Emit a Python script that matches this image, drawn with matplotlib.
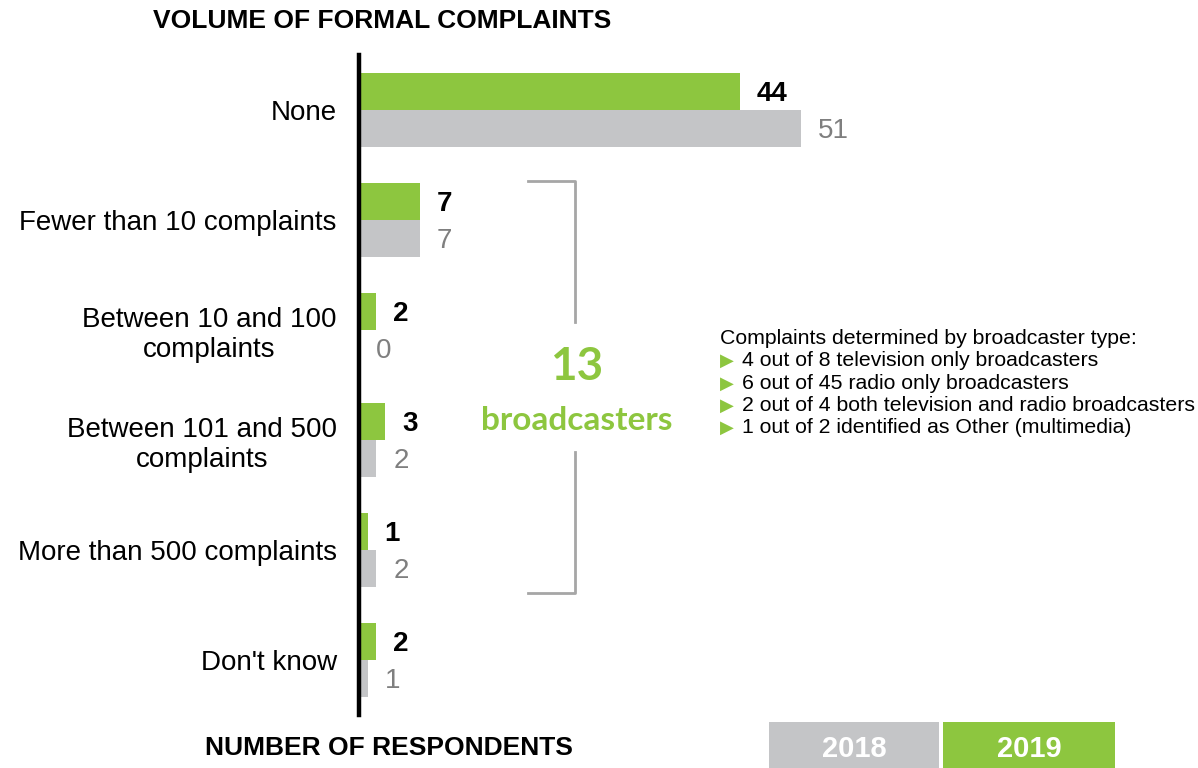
import matplotlib
matplotlib.use("Agg")
import matplotlib.pyplot as plt
from matplotlib.patches import Rectangle
from matplotlib.lines import Line2D

plt.rcParams['font.family'] = ['Liberation Sans', 'DejaVu Sans']

categories = ["None", "Fewer than 10 complaints", "Between 10 and 100\ncomplaints",
              "Between 101 and 500\ncomplaints", "More than 500 complaints", "Don't know"]
values_2019 = [44, 7, 2, 3, 1, 2]
values_2018 = [51, 7, 0, 2, 2, 1]
years = ["2018", "2019"]
notes_header = "Complaints determined by broadcaster type:"
notes = ["4 out of 8 television only broadcasters",
         "6 out of 45 radio only broadcasters",
         "2 out of 4 both television and radio broadcasters",
         "1 out of 2 identified as Other (multimedia)"]

GREEN = "#8dc63f"
GREY = "#c4c5c7"
GREY_TXT = "#7f7f7f"

W, H = 1198, 768
fig = plt.figure(figsize=(W / 100, H / 100), dpi=100)


def fx(x):
    return x / W


def fy(y):
    return 1 - y / H


# plot area: left edge at the axis line, 6 groups of 110 px
x0, y_top, y_bot = 359, 55, 715
ax = fig.add_axes([fx(x0), fy(y_bot), fx(W) - fx(x0), fy(y_top) - fy(y_bot)])
px_per_unit = 8.66
ax.set_xlim(0, (W - x0) / px_per_unit)
ax.set_ylim(len(categories) - 0.5, -0.5)

bh = 0.336
pos = list(range(len(categories)))
ax.barh([p - bh / 2 for p in pos], values_2019, height=bh, color=GREEN, edgecolor='none')
ax.barh([p + bh / 2 for p in pos], values_2018, height=bh, color=GREY, edgecolor='none')

off = 17 / px_per_unit
for p, v in zip(pos, values_2019):
    ax.text(v + off, p - bh / 2 + 0.025, str(v), ha='left', va='center', fontsize=20,
            fontweight='bold', color='black')
for p, v in zip(pos, values_2018):
    ax.text(v + off, p + bh / 2 + 0.025, str(v), ha='left', va='center', fontsize=20,
            color=GREY_TXT)

ax.set_yticks(pos)
ax.set_yticklabels(categories, fontsize=20, multialignment='center')
ax.tick_params(axis='y', length=0, pad=16)
ax.set_xticks([])
for s in ['top', 'right', 'bottom']:
    ax.spines[s].set_visible(False)
ax.spines['left'].set_linewidth(3.2)
ax.spines['left'].set_color('black')
ax.patch.set_alpha(0)

# titles
fig.text(fx(153), fy(21), "VOLUME OF FORMAL COMPLAINTS", ha='left', va='center',
         fontsize=19, fontweight='bold')
fig.text(fx(205), fy(748), "NUMBER OF RESPONDENTS", ha='left', va='center',
         fontsize=19, fontweight='bold')

# bracket around the groups that received complaints
bc = "#a6a6a6"
fig.add_artist(Line2D([fx(528), fx(575), fx(575)], [fy(181), fy(181), fy(322)],
                      color=bc, lw=2, transform=fig.transFigure))
fig.add_artist(Line2D([fx(575), fx(575), fx(528)], [fy(452), fy(593), fy(593)],
                      color=bc, lw=2, transform=fig.transFigure))
total = sum(values_2019[1:5])
fig.text(fx(577), fy(367), str(total), ha='center', va='center', fontsize=33,
         fontweight='bold', color=GREEN, family='Lato')
fig.text(fx(577), fy(421), "broadcasters", ha='center', va='center', fontsize=24,
         fontweight='bold', color=GREEN, family='Lato')

# breakdown notes
fig.text(fx(720), fy(338), notes_header, ha='left', va='center', fontsize=15.3)
for i, n in enumerate(notes):
    y = 361 + i * 22.3
    fig.text(fx(720), fy(y), "\u25B6", ha='left', va='center', fontsize=13,
             color=GREEN, family='DejaVu Sans')
    fig.text(fx(742), fy(y), n, ha='left', va='center', fontsize=15.3)

# year legend
for (x_l, x_r), lbl, col in zip([(769, 939), (943, 1115)], years, [GREY, GREEN]):
    fig.add_artist(Rectangle((fx(x_l), 0), fx(x_r) - fx(x_l), fy(722), color=col,
                             transform=fig.transFigure, lw=0))
    fig.text(fx((x_l + x_r) / 2), fy(749), lbl, ha='center', va='center', fontsize=21,
             fontweight='bold', color='white')

fig.savefig("out.png", dpi=100)
